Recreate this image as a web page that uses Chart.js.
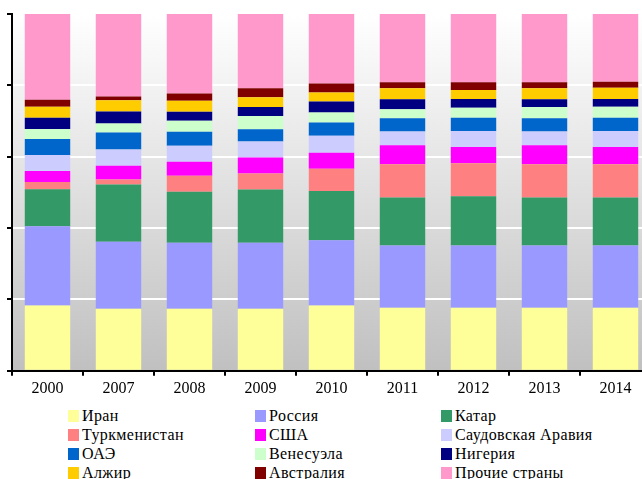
<!DOCTYPE html>
<html>
<head>
<meta charset="utf-8">
<script src="https://cdn.jsdelivr.net/npm/chart.js@4"></script>
<style>
  html, body { margin: 0; padding: 0; background: #fff; overflow: hidden; }
  #wrap { position: absolute; left: 0; top: 0; width: 651px; height: 404px; }
  #legend { position: absolute; left: 0; top: 406px; width: 642px; font-family: "Liberation Serif", serif; font-size: 16px; color: #000; }
  .item { position: absolute; height: 19px; line-height: 19px; white-space: nowrap; letter-spacing: 0.4px; }
  .box { display: inline-block; width: 11px; height: 12px; margin-right: 3px; vertical-align: -1px; }
</style>
</head>
<body>
<div id="wrap"><canvas id="myChart"></canvas></div>
<div id="legend"></div>
<script>
const years = ['2000', '2007', '2008', '2009', '2010', '2011', '2012', '2013', '2014'];

const countries = ['Иран', 'Россия', 'Катар', 'Туркменистан', 'США', 'Саудовская Аравия',
                   'ОАЭ', 'Венесуэла', 'Нигерия', 'Алжир', 'Австралия', 'Прочие страны'];

const colors = ['#ffff99', '#9999ff', '#339966', '#ff8080', '#ff00ff', '#ccccff',
                '#0066cc', '#ccffcc', '#000080', '#ffcc00', '#800000', '#ff99cc'];

// shares, % (one array per country, by year)
const iran         = [18.3, 17.4, 17.4, 17.4, 18.3, 17.7, 17.7, 17.7, 17.7];
const russia       = [22.2, 18.8, 18.5, 18.5, 18.3, 17.4, 17.4, 17.4, 17.4];
const qatar        = [10.4, 16.0, 14.3, 14.9, 13.8, 13.5, 13.8, 13.5, 13.5];
const turkmenistan = [2.0, 1.4, 4.5, 4.5, 6.2, 9.3, 9.3, 9.3, 9.3];
const usa          = [3.1, 3.9, 3.9, 4.5, 4.5, 5.3, 4.5, 5.3, 4.8];
const saudi        = [4.5, 4.5, 4.5, 4.5, 4.8, 3.9, 4.5, 3.9, 4.5];
const uae          = [4.5, 4.8, 3.9, 3.4, 3.7, 3.7, 3.7, 3.7, 3.7];
const venezuela    = [2.8, 2.5, 3.1, 3.7, 2.8, 2.5, 2.8, 3.1, 3.1];
const nigeria      = [3.1, 3.4, 2.5, 2.5, 3.1, 2.8, 2.5, 2.2, 2.2];
const algeria      = [3.1, 3.1, 3.1, 2.8, 2.5, 3.1, 2.5, 3.1, 3.1];
const australia    = [2.0, 1.1, 2.0, 2.5, 2.5, 1.7, 2.2, 1.7, 1.7];
const others       = [24.0, 23.1, 22.3, 20.8, 19.5, 19.1, 19.1, 19.1, 19.0];

const series = [iran, russia, qatar, turkmenistan, usa, saudi,
                uae, venezuela, nigeria, algeria, australia, others];

// gray gradient behind the plot
const plotBg = {
    id: 'plotBg',
    beforeDraw(chart) {
        const a = chart.chartArea;
        const ctx = chart.ctx;
        const g = ctx.createLinearGradient(0, a.top, 0, a.bottom);
        g.addColorStop(0, '#ffffff');
        g.addColorStop(1, '#c0c0c0');
        ctx.save();
        ctx.fillStyle = g;
        ctx.fillRect(a.left, a.top, a.right - a.left, a.bottom - a.top);
        ctx.restore();
    }
};

const ctx = document.getElementById('myChart').getContext('2d');
const chart = new Chart(ctx, {
    type: 'bar',
    data: {
        labels: years,
        datasets: series.map((d, i) => ({
            label: countries[i],
            data: d,
            backgroundColor: colors[i],
            borderWidth: 0,
            barPercentage: 0.64,
            categoryPercentage: 1.0
        }))
    },
    options: {
        responsive: true,
        maintainAspectRatio: false,
        animation: false,
        layout: { padding: { left: 7, top: 14, right: 0, bottom: 3 } },
        plugins: {
            legend: { display: false },
            tooltip: { enabled: false },
            title: { display: false }
        },
        scales: {
            x: {
                stacked: true,
                grid: { drawOnChartArea: false, drawTicks: true, tickLength: 5, tickColor: '#000', lineWidth: 2 },
                border: { color: '#000', width: 2 },
                ticks: { color: '#000', padding: 3, font: { family: 'Liberation Serif', size: 16 } }
            },
            y: {
                stacked: true,
                min: 0,
                max: 100,
                ticks: { display: false, stepSize: 20 },
                grid: { color: '#ffffff', lineWidth: 2, drawTicks: true, tickLength: 5, tickColor: '#000' },
                border: { color: '#000', width: 2 }
            }
        }
    },
    plugins: [plotBg]
});

// legend in three columns
const legend = document.getElementById('legend');
const colX = [68, 255, 441];
countries.forEach((name, i) => {
    const el = document.createElement('div');
    el.className = 'item';
    el.style.left = colX[i % 3] + 'px';
    el.style.top = (Math.floor(i / 3) * 19) + 'px';
    el.innerHTML = '<span class="box" style="background:' + colors[i] + '"></span>' + name;
    legend.appendChild(el);
});
</script>
</body>
</html>
